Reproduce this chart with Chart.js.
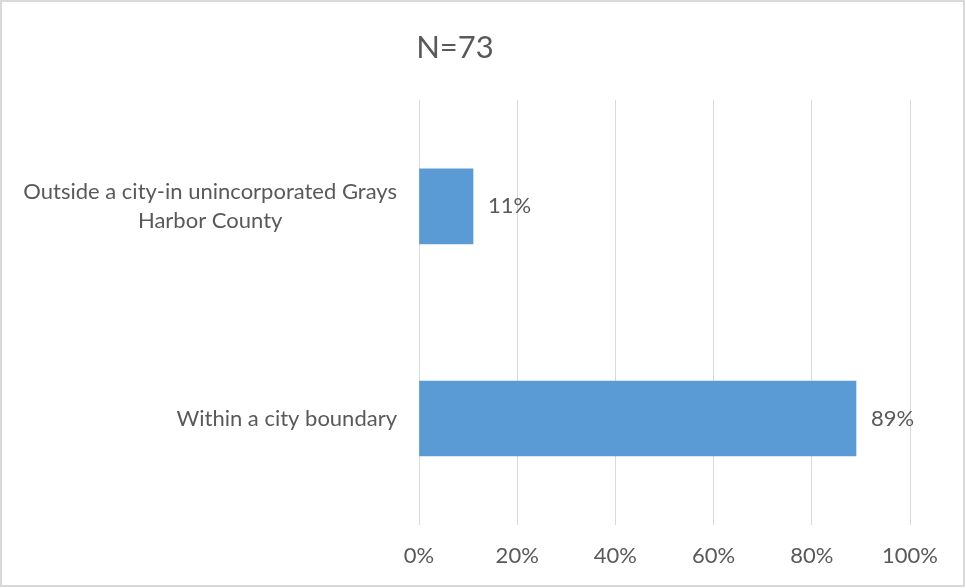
<!DOCTYPE html>
<html>
<head>
<meta charset="utf-8">
<script src="https://cdn.jsdelivr.net/npm/chart.js@4.4.0/dist/chart.umd.min.js"></script>
<style>
  body { margin: 0; background: #fff; }
</style>
</head>
<body>
<canvas id="myChart" width="966" height="588"></canvas>
<script>
'use strict';

// chart data
let categories = [['Outside a city-in unincorporated Grays', 'Harbor County'], 'Within a city boundary'];
let shares = [11, 89];
let tickValues = [0, 20, 40, 60, 80, 100];
let chartTitle = 'N=73';

let textColor = '#595959';
let fontName = 'Lato';

// frame around the whole chart
let framePlugin = {
  id: 'frame',
  beforeDraw(chart) {
    let ctx = chart.ctx;
    ctx.save();
    ctx.fillStyle = '#fff';
    ctx.fillRect(0, 0, chart.width, chart.height);
    ctx.strokeStyle = '#d9d9d9';
    ctx.lineWidth = 2;
    ctx.strokeRect(1, 1, 963, 585);
    ctx.restore();
  }
};

// category labels (centered lines, block right-aligned) and value labels
let labelPlugin = {
  id: 'labels',
  afterDatasetsDraw(chart) {
    let ctx = chart.ctx;
    let yScale = chart.scales.y;
    let meta = chart.getDatasetMeta(0);
    ctx.save();
    ctx.font = '22px ' + fontName;
    ctx.fillStyle = textColor;
    ctx.textBaseline = 'middle';
    ctx.textAlign = 'center';
    let lineH = 29;
    for (let i = 0; i < categories.length; i++) {
      let lines = Array.isArray(categories[i]) ? categories[i] : [categories[i]];
      let maxW = 0;
      lines.forEach(l => { maxW = Math.max(maxW, ctx.measureText(l).width); });
      let cx = chart.chartArea.left - 22 - maxW / 2;
      let cy = yScale.getPixelForValue(i);
      let startY = cy - (lines.length - 1) * lineH / 2;
      lines.forEach((l, j) => ctx.fillText(l, cx, startY + j * lineH));
    }
    ctx.textAlign = 'left';
    meta.data.forEach((bar, i) => {
      ctx.fillText(shares[i] + '%', bar.x + 15, bar.y);
    });
    ctx.restore();
  }
};

let ctx = document.getElementById('myChart').getContext('2d');
let myChart = new Chart(ctx, {
  type: 'bar',
  data: {
    labels: categories,
    datasets: [{
      data: shares,
      backgroundColor: '#5b9bd5',
      borderWidth: 0,
      barThickness: 75
    }]
  },
  options: {
    indexAxis: 'y',
    responsive: false,
    animation: false,
    layout: { padding: { left: 0, right: 56, top: 0, bottom: 1 } },
    plugins: {
      legend: { display: false },
      tooltip: { enabled: false },
      title: {
        display: true,
        text: chartTitle,
        color: textColor,
        font: { family: fontName, size: 31, weight: 'normal' },
        padding: { top: 29, bottom: 34 }
      }
    },
    scales: {
      x: {
        min: 0,
        max: 100,
        afterBuildTicks(scale) {
          scale.ticks = tickValues.map(v => ({ value: v }));
        },
        grid: { color: '#d9d9d9', lineWidth: 1, drawTicks: false },
        border: { display: false },
        ticks: {
          padding: 18,
          color: textColor,
          font: { family: fontName, size: 22 },
          callback: v => v + '%'
        }
      },
      y: {
        grid: { display: false },
        border: { display: false },
        ticks: { display: false },
        afterFit(scale) {
          scale.width = 419;
        }
      }
    }
  },
  plugins: [framePlugin, labelPlugin]
});
</script>
</body>
</html>
